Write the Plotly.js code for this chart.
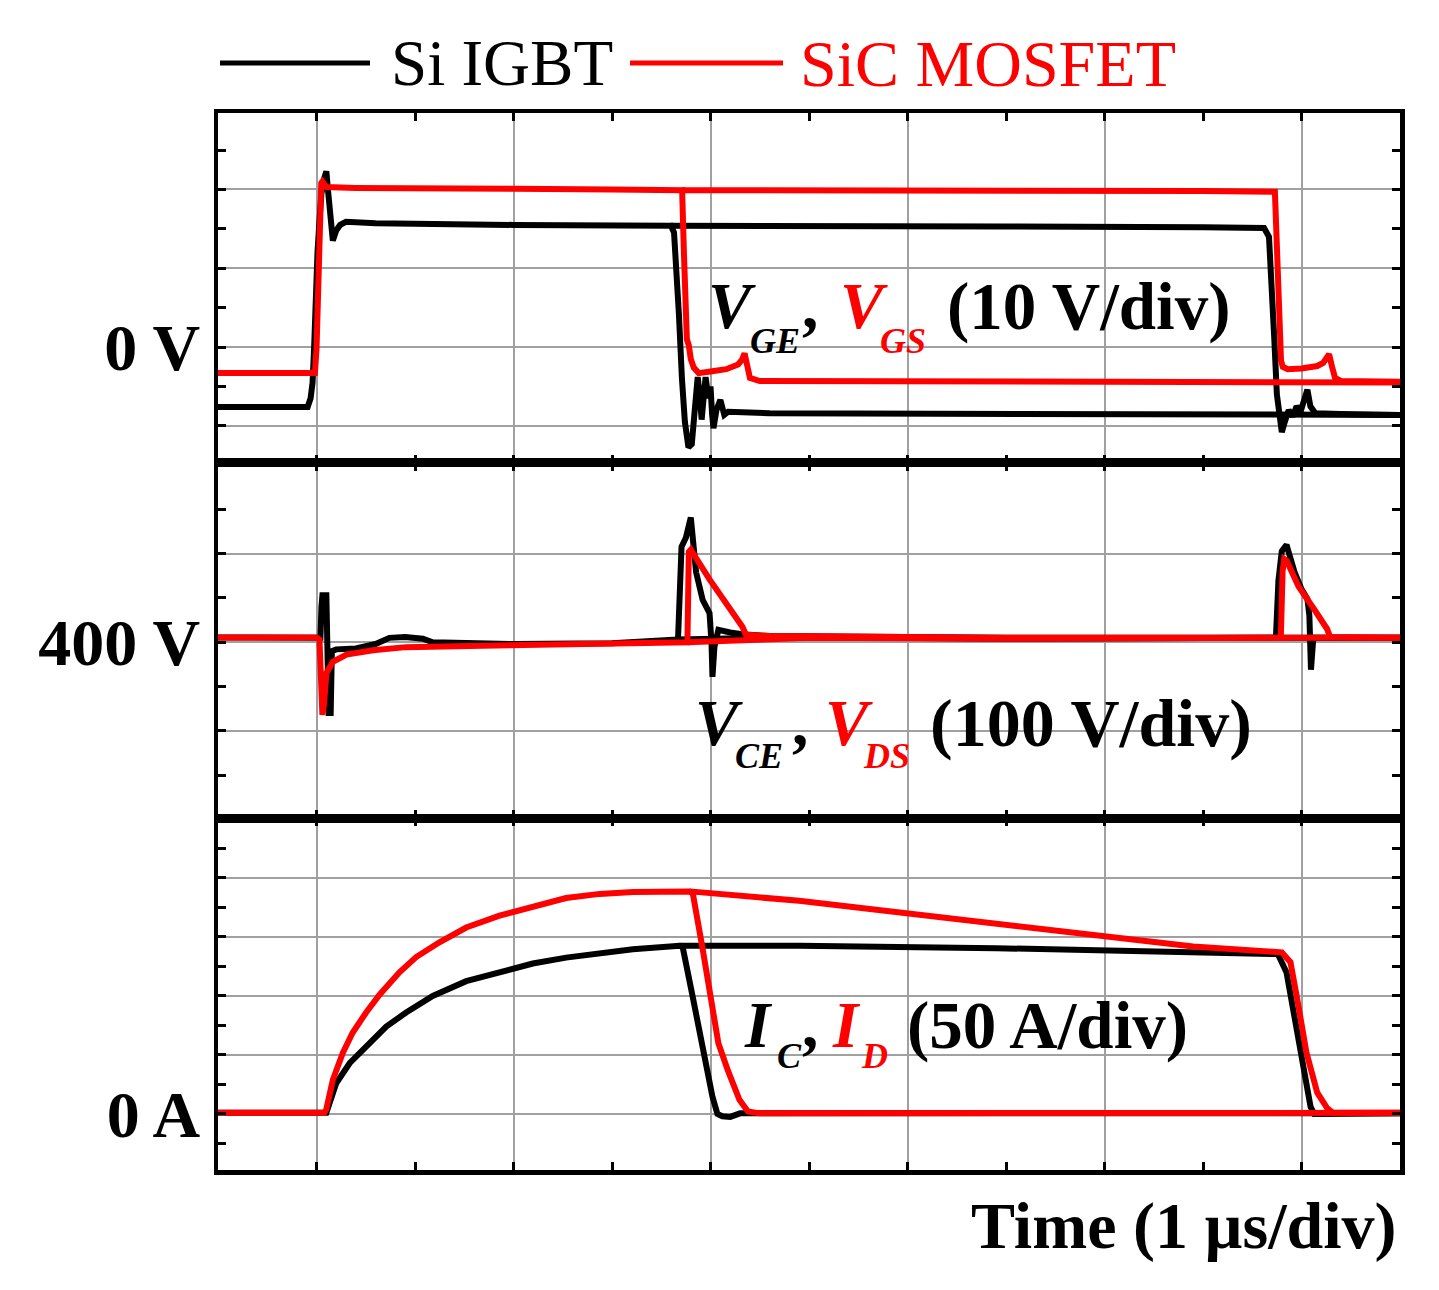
<!DOCTYPE html>
<html><head><meta charset="utf-8">
<script src="https://cdn.plot.ly/plotly-3.0.1.min.js"></script>
<style>body{margin:0;background:#fff}</style>
</head><body><div id="chart" style="width:1439px;height:1290px"></div>
<script>
// ---------- DATA (time in microseconds) ----------
// Panel 1: gate voltages (V)
const siGateT  = [-0.5,-0.045,-0.03,-0.02,-0.012,-0.005,0.005,0.015,0.025,0.04,0.05,0.058,0.066,0.075,0.083,0.1,0.12,0.15,0.3,1.0,1.8,1.815,1.83,1.84,1.855,1.87,1.888,1.905,1.92,1.935,1.945,1.955,1.965,1.975,1.99,2.0,2.008,2.015,2.03,2.05,2.07,2.09,2.3,3.5,5.5];
const siGateV  = [-7.6,-7.6,-6.5,-4.5,0,8,12,16,19.5,21.5,22.3,20,17.8,14.5,13.5,14.8,15.5,15.9,15.7,15.5,15.4,14.5,9,4,-4,-9.5,-12.7,-12.3,-8,-3.8,-6,-9.2,-6.5,-3.8,-6.5,-5,-8.5,-10.3,-8,-6.7,-8.6,-8.2,-8.4,-8.5,-8.6];
const siGateLongT = [1.8,2.5,3.5,4.5,4.81,4.835,4.85,4.862,4.875,4.89,4.9,4.915,4.935,4.955,4.975,4.995,5.015,5.03,5.045,5.07,5.2,5.5];
const siGateLongV = [15.4,15.4,15.3,15.2,15.1,14.0,8,1,-6,-10,-10.8,-9.5,-8,-8.8,-7.5,-8.2,-6.5,-5.4,-7.5,-8.4,-8.5,-8.6];
const sicGateT = [-0.5,-0.008,0.0,0.007,0.017,0.024,0.03,0.05,0.2,0.5,1.0,1.5,1.856,1.865,1.872,1.88,1.89,1.9,1.915,1.94,2.0,2.08,2.14,2.16,2.173,2.185,2.2,2.25,3.0,4.0,5.5];
const sicGateV = [-3.3,-3.3,-0.3,7.3,14.5,20.8,21,20.3,20.2,20.2,20.1,20.0,19.9,12,4,1,0.2,-1.5,-2.6,-3.3,-3.1,-2.8,-2.2,-1.6,-0.8,-2.5,-3.9,-4.3,-4.4,-4.4,-4.5];
const sicGateLongT = [1.856,2.5,3.5,4.5,4.865,4.872,4.88,4.888,4.896,4.905,4.93,5.0,5.08,5.11,5.125,5.14,5.155,5.17,5.2,5.5];
const sicGateLongV = [19.9,19.9,19.9,19.8,19.7,14,6,0.5,-1.7,-2.5,-2.8,-2.7,-2.4,-2.0,-1.4,-0.9,-2.5,-3.9,-4.3,-4.4];

// Panel 2: blocking voltages (V)
const siVceT = [-0.5,0.0,0.02,0.025,0.03,0.05,0.057,0.062,0.072,0.078,0.1,0.2,0.3,0.37,0.45,0.54,0.59,1.0,1.5,1.835,1.853,1.875,1.9,1.927,1.96,1.995,2.005,2.01,2.02,2.04,2.1,2.16,2.3,3.5,5.5];
const siVceV = [405.5,405.5,405,440,453,453,400,320,320,390,392,393,398,405,406,404,400,398,399,403,508,518,541,479,448,433,400,361,395,414,411,409,407,405,405];
const siVceLongT = [1.835,2.5,3.5,4.5,4.87,4.883,4.9,4.924,4.945,4.965,5.0,5.03,5.04,5.048,5.06,5.1,5.5];
const siVceLongV = [403,406,404,404,405,470,503,510,495,479,460,449,430,369,405,405,405];
const sicVdsT = [-0.5,0.0,0.015,0.022,0.03,0.038,0.05,0.083,0.152,0.287,0.455,0.843,1.35,1.84,1.883,1.89,1.9,1.995,2.08,2.162,2.18,2.3,3.5,5.5];
const sicVdsV = [405.5,405.5,403,360,318,330,365,378,386,391,394.5,396,398,400,400,502,504.5,471,444.6,417.5,408.5,407,405,405];
const sicVdsLongT = [1.883,2.5,3.5,4.5,4.895,4.904,4.912,4.925,4.985,5.065,5.115,5.13,5.145,5.5];
const sicVdsLongV = [400,405,404,404,405,480,494,492,463,437,420,415,406,405];

// Panel 3: currents (A)
const siIcT = [-0.5,0.05,0.066,0.1,0.168,0.252,0.354,0.455,0.59,0.76,0.929,1.098,1.267,1.437,1.606,1.843,1.858,1.91,1.96,2.01,2.035,2.06,2.1,2.15,3.0,5.5];
const siIcV = [1,1,9,26,43,57,74,86,100,112.5,120.5,127.5,132.5,136.5,139.5,142.5,142,99,57,14.5,0,-2,-2.5,0.5,0.5,0.5];
const siIcLongT = [1.843,2.1,2.45,3.45,4.45,4.88,4.924,4.965,5.005,5.046,5.065,5.2,5.5];
const siIcLongV = [142.5,142.5,142.5,140.5,137,135.5,120,83,40,6,0,0,0.5];
const sicIdT = [-0.5,0.04,0.049,0.083,0.134,0.184,0.252,0.32,0.421,0.506,0.624,0.76,0.929,1.098,1.267,1.437,1.607,1.893,1.91,1.96,2.01,2.04,2.09,2.147,2.19,2.25,5.5];
const sicIdV = [1,1,3.4,29,52,69,86,101,120,133,145.5,158,168,176,183,186.5,188,188.5,187,140,92,60,36,12,2,0.5,1];
const sicIdLongT = [1.893,1.94,2.45,3.01,3.45,4.0,4.45,4.9,4.944,4.985,5.025,5.08,5.13,5.16,5.5];
const sicIdLongV = [188.5,188,180.6,169.5,161,151,142,137,128.6,91,52,18,5,1,1];

// Tick labels
const gateTickVals = [-10,0,10,20];
const gateTickText = ['','<b>0 V</b>','',''];
const vTickVals = [300,400,500];
const vTickText = ['','<b>400 V</b>',''];
const iTickVals = [0,50,100,150,200];
const iTickText = ['<b>0 A</b>','','','',''];

const seriesNames = ['Si IGBT','SiC MOSFET'];
const xTitle = '<b>Time (1 µs/div)</b>';

// ---------- STYLE ----------
const BLACK = '#000000', RED = '#ff0000';
const FONT = 'Liberation Serif, Times New Roman, serif';
const LW = 6;

function tr(x, y, color, xa, ya, name) {
  return {x, y, type:'scatter', mode:'lines', name, line:{color, width:LW},
          xaxis:xa, yaxis:ya, hoverinfo:'skip', showlegend:false};
}

const data = [
  tr(siGateT, siGateV, BLACK, 'x', 'y', seriesNames[0]),
  tr(siGateLongT, siGateLongV, BLACK, 'x', 'y', seriesNames[0]),
  tr(sicGateT, sicGateV, RED, 'x', 'y', seriesNames[1]),
  tr(sicGateLongT, sicGateLongV, RED, 'x', 'y', seriesNames[1]),
  tr(siVceT, siVceV, BLACK, 'x2', 'y2', seriesNames[0]),
  tr(siVceLongT, siVceLongV, BLACK, 'x2', 'y2', seriesNames[0]),
  tr(sicVdsT, sicVdsV, RED, 'x2', 'y2', seriesNames[1]),
  tr(sicVdsLongT, sicVdsLongV, RED, 'x2', 'y2', seriesNames[1]),
  tr(siIcT, siIcV, BLACK, 'x3', 'y3', seriesNames[0]),
  tr(siIcLongT, siIcLongV, BLACK, 'x3', 'y3', seriesNames[0]),
  tr(sicIdT, sicIdV, RED, 'x3', 'y3', seriesNames[1]),
  tr(sicIdLongT, sicIdLongV, RED, 'x3', 'y3', seriesNames[1])
];

const axBase = {showline:true, linecolor:BLACK, linewidth:4.5, mirror:'ticks',
  ticks:'inside', ticklen:8, tickwidth:3, tickcolor:BLACK,
  showgrid:true, gridcolor:'#a0a0a0', gridwidth:2, zeroline:false, fixedrange:true,
  tickfont:{family:FONT, size:66, color:BLACK}};
const minorBase = {ticks:'inside', ticklen:8, tickwidth:3, tickcolor:BLACK, showgrid:false};

function xax(anchor) {
  return Object.assign({}, axBase, {anchor, domain:[0,1], range:[-0.5,5.5],
    tickmode:'linear', tick0:0, dtick:1, showticklabels:false,
    minor:Object.assign({tickmode:'linear', tick0:0, dtick:0.5}, minorBase)});
}
function yax(anchor, domain, range, vals, text, mdt) {
  return Object.assign({}, axBase, {anchor, domain, range,
    tickmode:'array', tickvals:vals, ticktext:text,
    minor:Object.assign({tickmode:'linear', tick0:0, dtick:mdt}, minorBase)});
}

// pixel -> paper helpers (plot area: x 218..1400, y 113..1170)
const px = v => (v - 218) / 1182;
const py = v => (1170 - v) / 1057;

function ann(text, x, y, size, color, anchor) {
  return {text, x:px(x), y:py(y), xref:'paper', yref:'paper', showarrow:false,
    xanchor:anchor || 'left', yanchor:'middle',
    font:{family:FONT, size, color}};
}

const annotations = [
  // legend text
  ann(seriesNames[0], 389, 63, 65, BLACK),
  ann(seriesNames[1], 798, 63, 66, RED),
  // panel 1
  ann('<b><i>V</i></b>', 706, 306, 65, BLACK),
  ann('<b><i>GE</i></b>', 748, 341, 36, BLACK),
  ann('<b>,</b>', 800, 306, 65, BLACK),
  ann('<b><i>V</i></b>', 838, 306, 65, RED),
  ann('<b><i>GS</i></b>', 878, 341, 36, RED),
  ann('<b>(10 V/div)</b>', 945, 306, 67, BLACK),
  // panel 2
  ann('<b><i>V</i></b>', 693, 723, 65, BLACK),
  ann('<b><i>CE</i></b>', 733, 756, 36, BLACK),
  ann('<b>,</b>', 790, 723, 65, BLACK),
  ann('<b><i>V</i></b>', 823, 723, 65, RED),
  ann('<b><i>DS</i></b>', 861, 756, 36, RED),
  ann('<b>(100 V/div)</b>', 928, 723, 68, BLACK),
  // panel 3
  ann('<b><i>I</i></b>', 742, 1025, 65, BLACK),
  ann('<b><i>C</i></b>', 775, 1056, 36, BLACK),
  ann('<b>,</b>', 800, 1025, 65, BLACK),
  ann('<b><i>I</i></b>', 830, 1025, 65, RED),
  ann('<b><i>D</i></b>', 859, 1056, 36, RED),
  ann('<b>(50 A/div)</b>', 905, 1025, 67, BLACK),
  // x title
  ann(xTitle, 1399, 1226, 66, BLACK, 'right')
];

const shapes = [
  {type:'line', xref:'paper', yref:'paper', x0:px(220), x1:px(370), y0:py(63), y1:py(63), line:{color:BLACK, width:5}},
  {type:'line', xref:'paper', yref:'paper', x0:px(630), x1:px(783), y0:py(63), y1:py(63), line:{color:RED, width:5}}
];

const layout = {
  width:1439, height:1290,
  margin:{l:218, r:39, t:113, b:120, pad:0},
  paper_bgcolor:'#ffffff', plot_bgcolor:'#ffffff',
  showlegend:false,
  font:{family:FONT, color:BLACK},
  xaxis:xax('y'), xaxis2:xax('y2'), xaxis3:xax('y3'),
  yaxis:yax('x', [0.6689,1], [-14.7,29.7], gateTickVals, gateTickText, 5),
  yaxis2:yax('x2', [0.3330,0.6689], [201.5,602.5], vTickVals, vTickText, 50),
  yaxis3:yax('x3', [0,0.3330], [-47.5,250.8], iTickVals, iTickText, 25),
  annotations, shapes
};

Plotly.newPlot('chart', data, layout, {staticPlot:true, displayModeBar:false});
</script></body></html>
